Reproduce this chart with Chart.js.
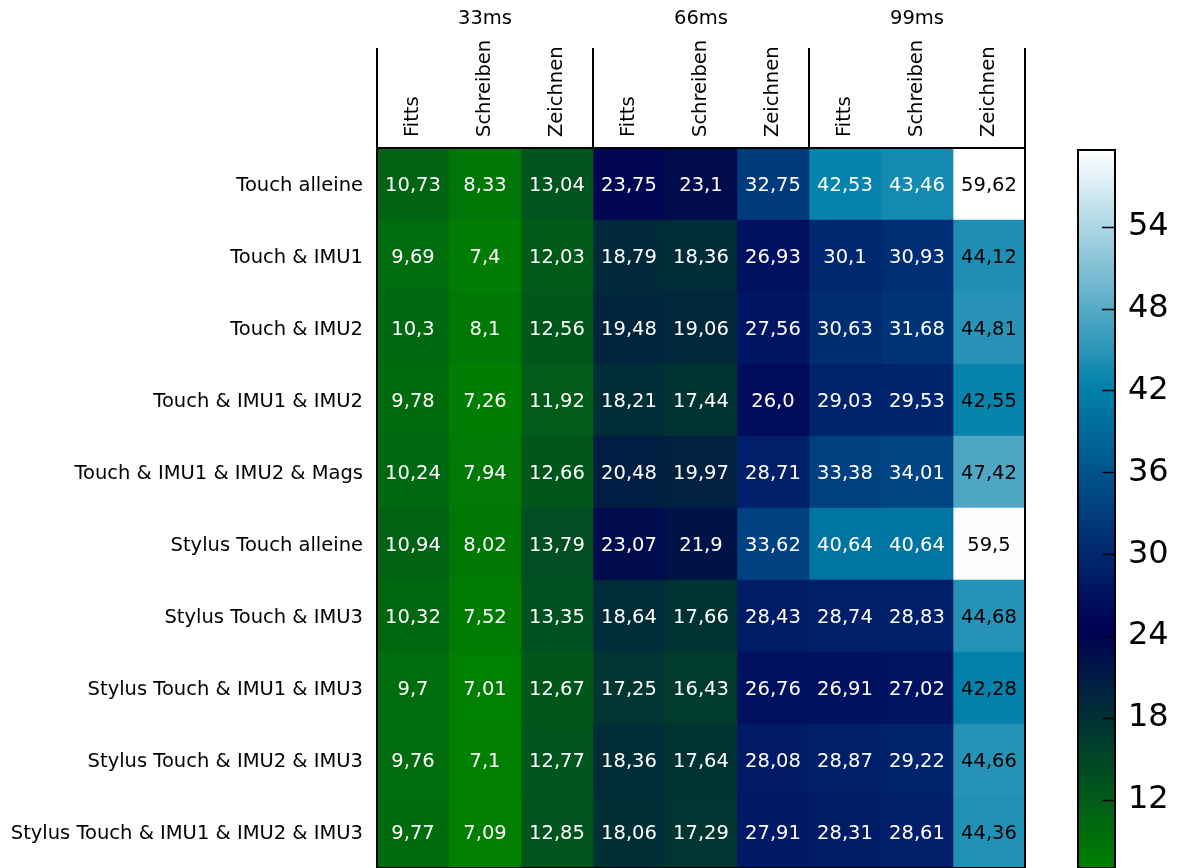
<!DOCTYPE html>
<html>
<head>
<meta charset="utf-8">
<script src="https://cdn.jsdelivr.net/npm/chart.js@4.4.1/dist/chart.umd.min.js"></script>
<style>
  html, body { margin: 0; padding: 0; background: #ffffff; }
  #wrap { position: relative; width: 1179px; height: 868px; overflow: hidden; }
  #main { position: absolute; left: 0; top: 0; width: 1179px; height: 868px; }
  #bar { position: absolute; left: 1060px; top: 0; width: 119px; height: 868px; }
</style>
</head>
<body>
<div id="wrap">
  <div id="main"><canvas id="heat"></canvas></div>
  <div id="bar"><canvas id="cbar"></canvas></div>
</div>
<script>
// Input configurations (rows)
const rowLabels = [
  'Touch alleine',
  'Touch & IMU1',
  'Touch & IMU2',
  'Touch & IMU1 & IMU2',
  'Touch & IMU1 & IMU2 & Mags',
  'Stylus Touch alleine',
  'Stylus Touch & IMU3',
  'Stylus Touch & IMU1 & IMU3',
  'Stylus Touch & IMU2 & IMU3',
  'Stylus Touch & IMU1 & IMU2 & IMU3'
];

// Tasks per latency group (columns)
const taskLabels = ['Fitts', 'Schreiben', 'Zeichnen'];
const groupLabels = ['33ms', '66ms', '99ms'];

// Values per latency: one row per configuration, [Fitts, Schreiben, Zeichnen]
const values33 = [
  [10.73, 8.33, 13.04],
  [9.69, 7.4, 12.03],
  [10.3, 8.1, 12.56],
  [9.78, 7.26, 11.92],
  [10.24, 7.94, 12.66],
  [10.94, 8.02, 13.79],
  [10.32, 7.52, 13.35],
  [9.7, 7.01, 12.67],
  [9.76, 7.1, 12.77],
  [9.77, 7.09, 12.85]
];
const values66 = [
  [23.75, 23.1, 32.75],
  [18.79, 18.36, 26.93],
  [19.48, 19.06, 27.56],
  [18.21, 17.44, 26.0],
  [20.48, 19.97, 28.71],
  [23.07, 21.9, 33.62],
  [18.64, 17.66, 28.43],
  [17.25, 16.43, 26.76],
  [18.36, 17.64, 28.08],
  [18.06, 17.29, 27.91]
];
const values99 = [
  [42.53, 43.46, 59.62],
  [30.1, 30.93, 44.12],
  [30.63, 31.68, 44.81],
  [29.03, 29.53, 42.55],
  [33.38, 34.01, 47.42],
  [40.64, 40.64, 59.5],
  [28.74, 28.83, 44.68],
  [26.91, 27.02, 42.28],
  [28.87, 29.22, 44.66],
  [28.31, 28.61, 44.36]
];

const colorbarTicks = [12, 18, 24, 30, 36, 42, 48, 54];

// ---------------------------------------------------------------
const columnLabels = groupLabels.flatMap(() => taskLabels);
const cells = rowLabels.map((_, r) => [...values33[r], ...values66[r], ...values99[r]]);
const allValues = cells.flat();
const vmin = Math.min(...allValues);
const vmax = Math.max(...allValues);
const DARK_TEXT_COLUMN = columnLabels.length - 1;
const FONT = "'DejaVu Sans', sans-serif";
const TEXT_SIZE = 19.5;

Chart.defaults.font.family = FONT;
Chart.defaults.color = '#000000';

const clamp = (v) => Math.max(0, Math.min(1, v));

// "ocean" colour map: green -> navy -> blue -> white
function ocean(t) {
  t = clamp(t);
  const r = clamp(3 * t - 2);
  const g = clamp(Math.abs((3 * t - 1) / 2));
  const b = t;
  return `rgb(${Math.round(r * 255)}, ${Math.round(g * 255)}, ${Math.round(b * 255)})`;
}
const norm = (v) => (v - vmin) / (vmax - vmin);

function formatValue(v) {
  const s = Number.isInteger(v) ? v.toFixed(1) : String(v);
  return s.replace('.', ',');
}

// one dataset per column, one floating bar per row
const datasets = columnLabels.map((name, c) => ({
  label: name,
  data: rowLabels.map(() => [c, c + 1]),
  backgroundColor: cells.map((row) => ocean(norm(row[c]))),
  borderWidth: 0,
  barPercentage: 1,
  categoryPercentage: 1
}));

const cellLabels = {
  id: 'cellLabels',
  afterDatasetsDraw(chart) {
    const ctx = chart.ctx;
    ctx.save();
    ctx.font = `${TEXT_SIZE}px ${FONT}`;
    ctx.textAlign = 'center';
    ctx.textBaseline = 'middle';
    chart.data.datasets.forEach((ds, c) => {
      chart.getDatasetMeta(c).data.forEach((bar, r) => {
        const p = bar.getCenterPoint();
        ctx.fillStyle = c === DARK_TEXT_COLUMN ? '#000000' : '#ffffff';
        ctx.fillText(formatValue(cells[r][c]), p.x, p.y + 2);
      });
    });
    ctx.restore();
  }
};

const headerFrame = {
  id: 'headerFrame',
  afterDraw(chart) {
    const ctx = chart.ctx;
    const area = chart.chartArea;
    const xs = chart.scales.x;
    ctx.save();
    ctx.strokeStyle = '#000000';
    ctx.lineWidth = 2;
    ctx.strokeRect(area.left, area.top, area.right - area.left, area.bottom - area.top);
    ctx.beginPath();
    for (let g = 0; g <= groupLabels.length; g++) {
      const x = xs.getPixelForValue(g * taskLabels.length);
      ctx.moveTo(x, 48);
      ctx.lineTo(x, area.top);
    }
    ctx.stroke();
    ctx.fillStyle = '#000000';
    ctx.font = `${TEXT_SIZE}px ${FONT}`;
    ctx.textAlign = 'center';
    ctx.textBaseline = 'middle';
    groupLabels.forEach((g, i) => {
      const x = xs.getPixelForValue(i * taskLabels.length + taskLabels.length / 2);
      ctx.fillText(g, x, 19);
    });
    ctx.restore();
  }
};

new Chart(document.getElementById('heat'), {
  type: 'bar',
  data: { labels: rowLabels, datasets },
  options: {
    indexAxis: 'y',
    responsive: true,
    maintainAspectRatio: false,
    animation: false,
    layout: { padding: { left: 0, right: 154, top: 0, bottom: 0 } },
    plugins: { legend: { display: false }, tooltip: { enabled: false } },
    scales: {
      x: {
        type: 'linear',
        position: 'top',
        stacked: false,
        min: 0,
        max: columnLabels.length,
        afterBuildTicks: (axis) => { axis.ticks = columnLabels.map((_, i) => ({ value: i + 0.5 })); },
        afterFit: (axis) => { axis.height = 148; axis.paddingLeft = 0; axis.paddingRight = 0; },
        grid: { display: false, drawTicks: false },
        border: { display: false },
        ticks: {
          autoSkip: false,
          minRotation: 90,
          maxRotation: 90,
          mirror: true,
          padding: -11,
          font: { size: TEXT_SIZE },
          color: '#000000',
          callback: (v, i) => columnLabels[i]
        }
      },
      y: {
        type: 'category',
        stacked: true,
        afterFit: (axis) => { axis.width = 377; axis.paddingTop = 0; axis.paddingBottom = 0; },
        grid: { display: false, drawTicks: false },
        border: { display: false },
        ticks: { padding: 14, labelOffset: 1.5, font: { size: TEXT_SIZE }, color: '#000000' }
      }
    }
  },
  plugins: [cellLabels, headerFrame]
});

// Colour bar
function colorbarGradient(chart) {
  const ys = chart.scales.y;
  const fallback = ocean(0.5);
  if (!ys || !chart.chartArea) return fallback;
  const y0 = ys.getPixelForValue(vmin);
  const y1 = ys.getPixelForValue(vmax);
  if (!isFinite(y0) || !isFinite(y1) || y0 === y1) return fallback;
  const grad = chart.ctx.createLinearGradient(0, y0, 0, y1);
  [0, 1 / 3, 2 / 3, 1].forEach((t) => grad.addColorStop(t, ocean(t)));
  return grad;
}

const colorbarFrame = {
  id: 'colorbarFrame',
  afterDraw(chart) {
    const ctx = chart.ctx;
    const area = chart.chartArea;
    const ys = chart.scales.y;
    ctx.save();
    ctx.strokeStyle = '#000000';
    ctx.lineWidth = 1.5;
    ctx.beginPath();
    ys.ticks.forEach((t) => {
      const y = Math.round(ys.getPixelForValue(t.value)) + 0.5;
      ctx.moveTo(area.right - 13, y);
      ctx.lineTo(area.right, y);
    });
    ctx.stroke();
    ctx.lineWidth = 2;
    ctx.strokeRect(area.left, area.top, area.right - area.left, area.bottom - area.top);
    ctx.restore();
  }
};

new Chart(document.getElementById('cbar'), {
  type: 'bar',
  data: {
    labels: [''],
    datasets: [{
      data: [[vmin, vmax]],
      backgroundColor: (ctx) => colorbarGradient(ctx.chart),
      borderWidth: 0,
      barPercentage: 1,
      categoryPercentage: 1
    }]
  },
  options: {
    responsive: true,
    maintainAspectRatio: false,
    animation: false,
    layout: { padding: { left: 18, right: 0, top: 150, bottom: 0 } },
    plugins: { legend: { display: false }, tooltip: { enabled: false } },
    scales: {
      x: { display: false },
      y: {
        position: 'right',
        min: vmin,
        max: vmax,
        afterBuildTicks: (axis) => { axis.ticks = colorbarTicks.map((v) => ({ value: v })); },
        afterFit: (axis) => { axis.width = 64; axis.paddingTop = 0; axis.paddingBottom = 0; },
        grid: { display: false, drawTicks: false },
        border: { display: false },
        ticks: { padding: 13, font: { size: 32 }, color: '#000000' }
      }
    }
  },
  plugins: [colorbarFrame]
});
</script>
</body>
</html>
